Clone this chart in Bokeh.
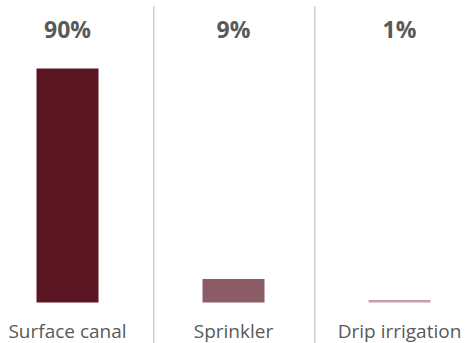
from bokeh.plotting import figure
from bokeh.models import Range1d
from bokeh.core.properties import value
from bokeh.embed import file_html
from bokeh.resources import INLINE

categories = ["Surface canal", "Sprinkler", "Drip irrigation"]
shares = [90, 9, 1]
value_labels = ["90%", "9%", "1%"]
colors = ["#5B1623", "#8B5B66", "#C6A0A8"]

W, H = 472, 343
px_per_unit = 2.6
base_px = 302
cat_px = 166
first_center_px = 67

x0 = -first_center_px / cat_px
x1 = (W - first_center_px) / cat_px
y0 = -(H - base_px) / px_per_unit
y1 = base_px / px_per_unit

p = figure(width=W, height=H, output_backend="svg", toolbar_location=None,
           x_range=Range1d(x0, x1), y_range=Range1d(y0, y1),
           min_border=0, outline_line_color=None)
p.axis.visible = False
p.grid.visible = False
p.background_fill_color = "white"
p.border_fill_color = "white"

xs = list(range(len(categories)))
p.vbar(x=xs, top=shares, bottom=0, width=62 / cat_px, color=colors, line_color=None)

# dividers
top_div = (base_px - 6) / px_per_unit
for i in range(len(categories) - 1):
    xm = i + 0.5 + (0.02 if i == 0 else -0.01)
    p.segment(x0=[xm], y0=[top_div], x1=[xm], y1=[y0], line_color="#6E6E6E",
              line_width=1, line_dash="1 1")

label_y = (base_px - 28) / px_per_unit
p.text(x=xs, y=[label_y] * 3, text=value_labels, text_align="center",
       text_baseline="middle", text_font=value("Open Sans"), text_font_style="bold",
       text_font_size="23px", text_color="#595959")

cat_y = (base_px - 330) / px_per_unit
p.text(x=xs, y=[cat_y] * 3, text=categories, text_align="center",
       text_baseline="middle", text_font=value("Open Sans"),
       text_font_size="19px", text_color="#595959")

open("out.html", "w").write(file_html(p, INLINE))
